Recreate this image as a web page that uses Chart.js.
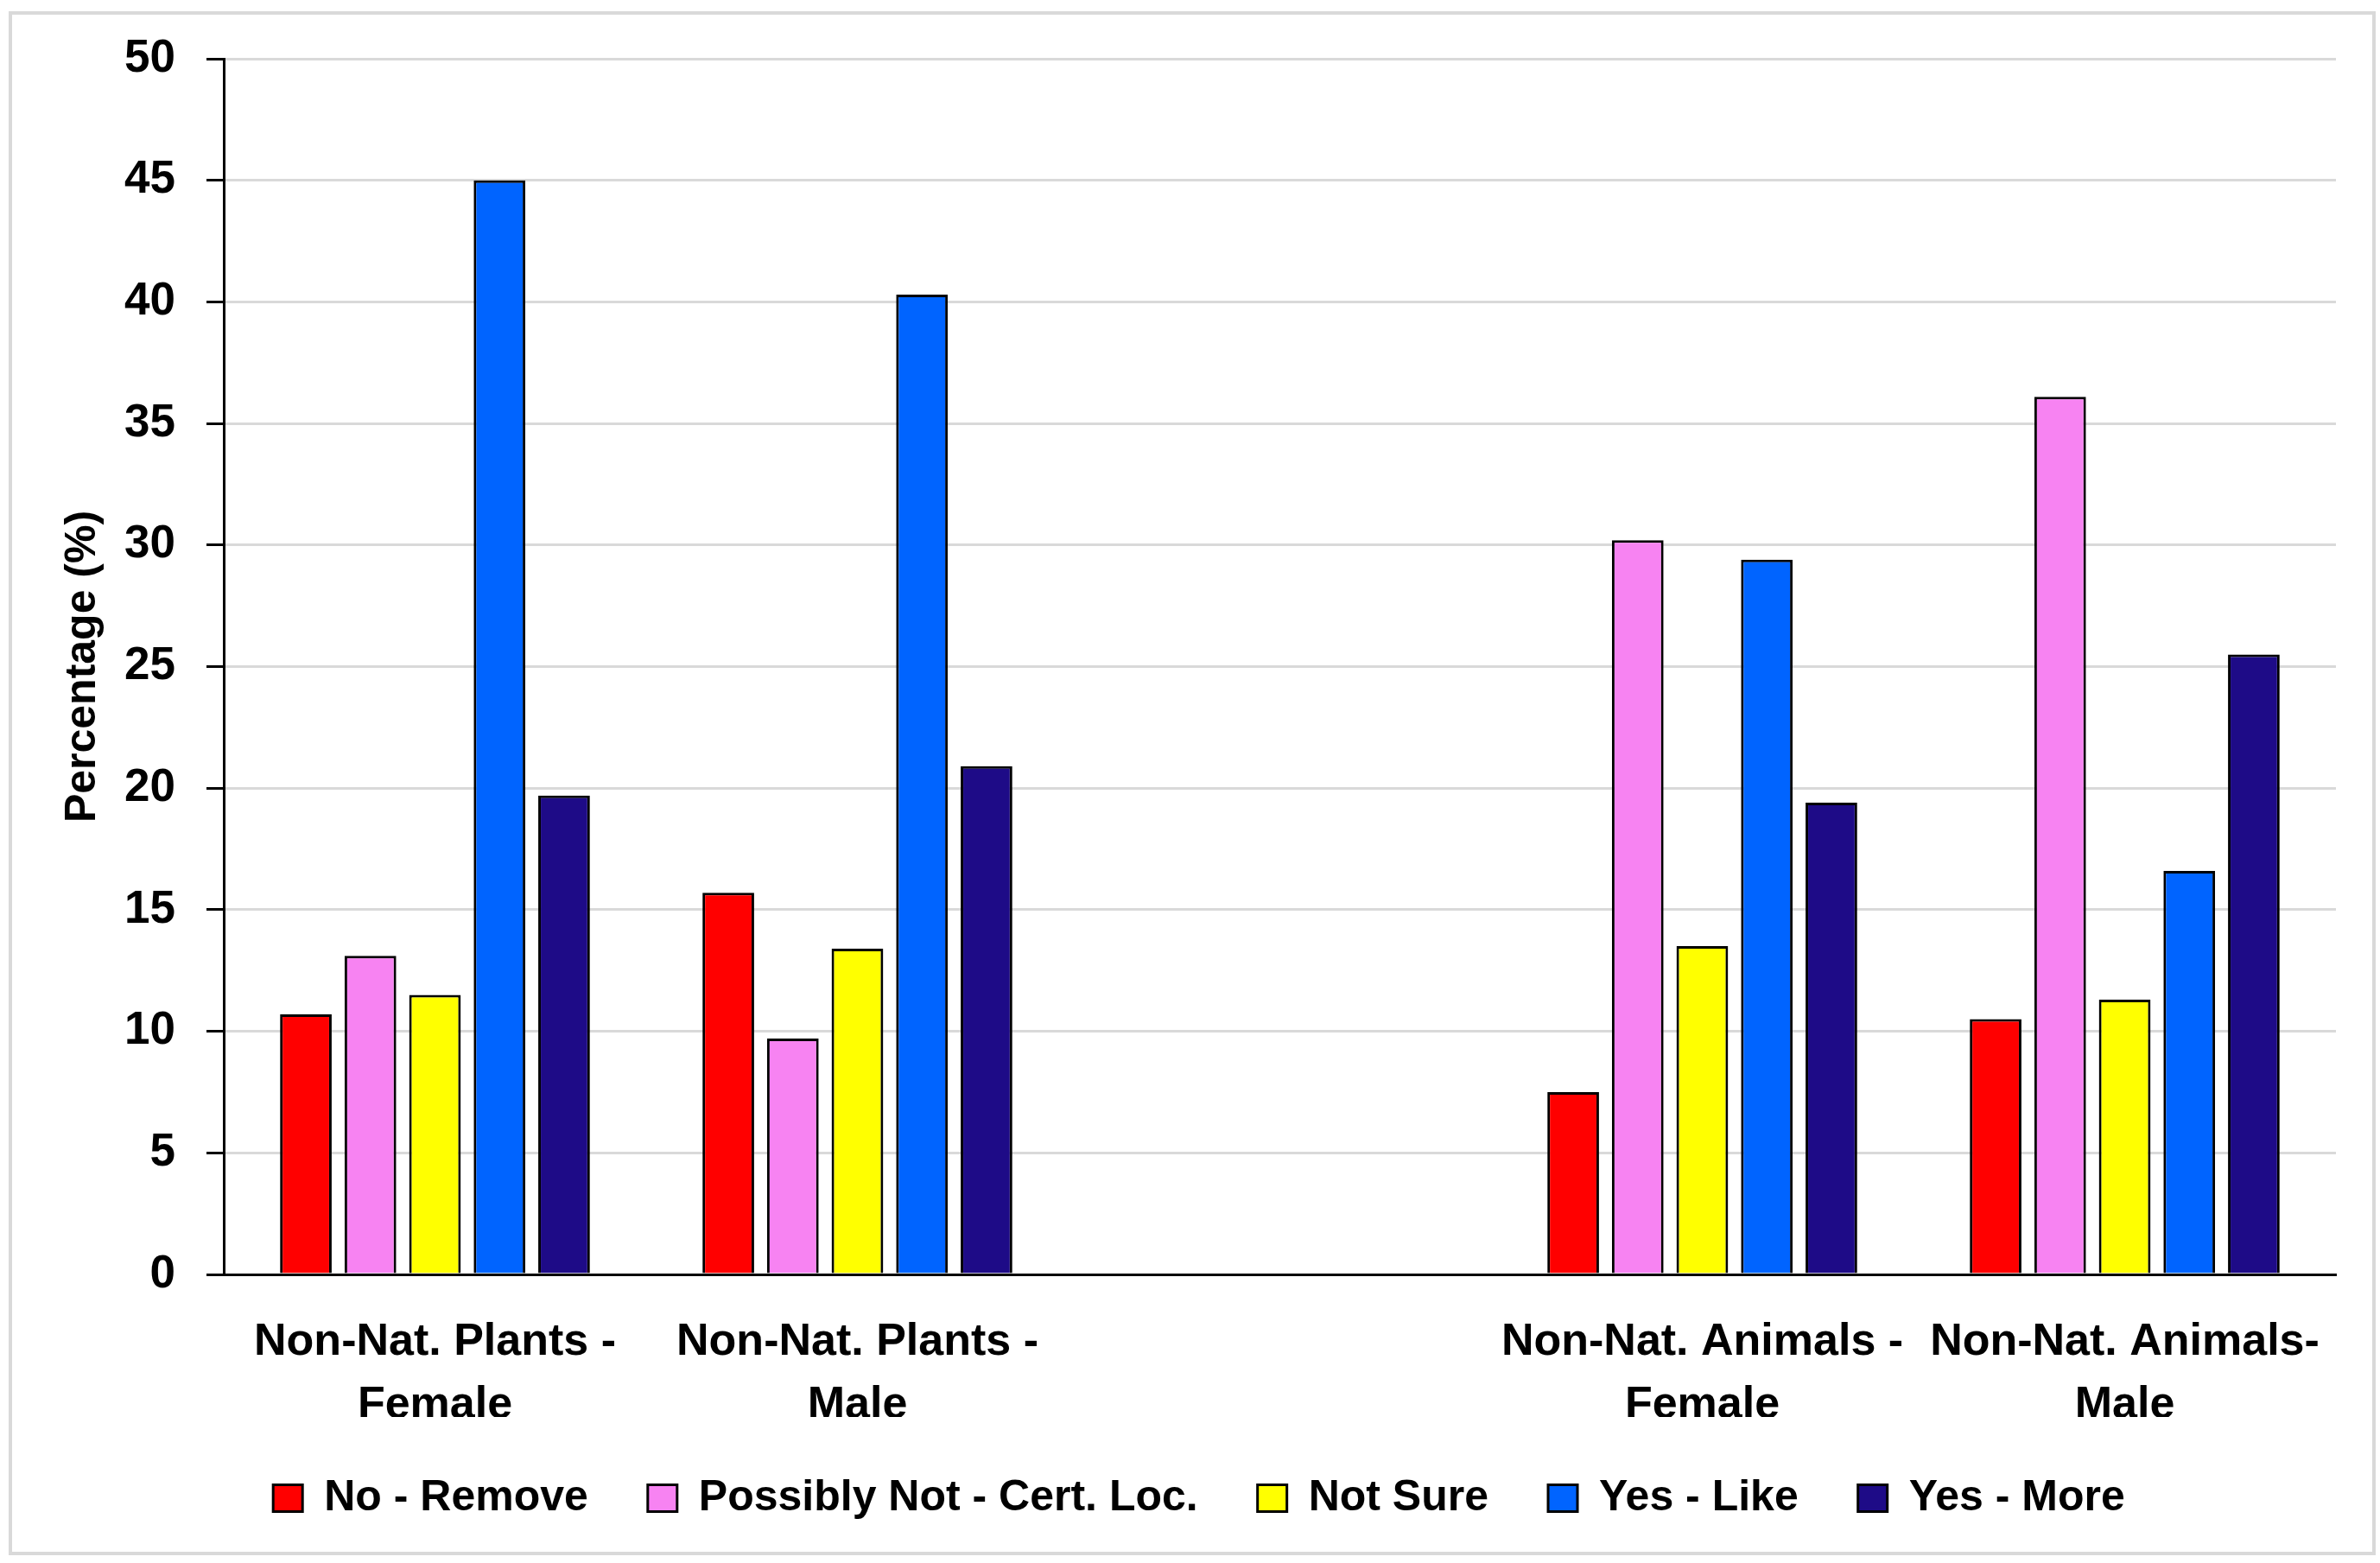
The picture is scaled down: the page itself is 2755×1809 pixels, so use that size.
<!DOCTYPE html>
<html>
<head>
<meta charset="utf-8">
<script src="https://cdn.jsdelivr.net/npm/chart.js@4.4.1/dist/chart.umd.min.js"></script>
<style>
  html, body { margin: 0; padding: 0; background: #ffffff; }
  #wrap { position: relative; width: 2755px; height: 1809px; overflow: hidden; background: #ffffff; }
  #frame { position: absolute; left: 10px; top: 13px; width: 2740px; height: 1787px; box-sizing: border-box; border: 4px solid #d9d9d9; pointer-events: none; }
  #c { position: absolute; left: 0; top: 0; }
</style>
</head>
<body>
<div id="wrap">
  <canvas id="c" width="2755" height="1809"></canvas>
  <div id="frame"></div>
</div>
<script>
// ---- Data ----
const categories = [
  ["Non-Nat. Plants -", "Female"],
  ["Non-Nat. Plants -", "Male"],
  "",
  ["Non-Nat. Animals -", "Female"],
  ["Non-Nat. Animals-", "Male"]
];
const seriesNames = ["No - Remove", "Possibly Not - Cert. Loc.", "Not Sure", "Yes - Like", "Yes - More"];
const noRemove      = [10.7, 15.7, null, 7.5, 10.5];
const possiblyNot   = [13.1, 9.7, null, 30.2, 36.1];
const notSure       = [11.5, 13.4, null, 13.5, 11.3];
const yesLike       = [45.0, 40.3, null, 29.4, 16.6];
const yesMore       = [19.7, 20.9, null, 19.4, 25.5];
const yTicks = [0, 5, 10, 15, 20, 25, 30, 35, 40, 45, 50];

const seriesValues = [noRemove, possiblyNot, notSure, yesLike, yesMore];
const seriesColors = ["#FF0000", "#F783F2", "#FFFF00", "#0064FF", "#1E0B87"];

const datasets = seriesNames.map((name, i) => ({
  label: name,
  data: seriesValues[i],
  backgroundColor: seriesColors[i],
  borderColor: "#000000",
  borderWidth: 3,
  categoryPercentage: 0.764,
  barPercentage: 0.8
}));

const FONT = "'Liberation Sans', Arial, Helvetica, sans-serif";

new Chart(document.getElementById("c"), {
  type: "bar",
  data: { labels: categories, datasets: datasets },
  options: {
    responsive: false,
    animation: false,
    devicePixelRatio: 1,
    layout: { padding: { left: 72, right: 51, top: 68, bottom: 40 } },
    plugins: {
      tooltip: { enabled: false },
      title: { display: false },
      legend: {
        display: true,
        position: "bottom",
        align: "center",
        labels: {
          color: "#000000",
          font: { family: FONT, size: 50, weight: "bold" },
          boxWidth: 34,
          boxHeight: 31,
          padding: 69
        }
      }
    },
    scales: {
      x: {
        grid: { display: false },
        border: { display: true, color: "#000000", width: 3 },
        ticks: {
          color: "#000000",
          padding: 34,
          maxRotation: 0,
          minRotation: 0,
          autoSkip: false,
          font: { family: FONT, size: 52, weight: "bold", lineHeight: 1.404 }
        },
        afterFit: (scale) => { scale.height = 165; }
      },
      y: {
        min: 0,
        max: 50,
        afterBuildTicks: (scale) => { scale.ticks = yTicks.map(v => ({ value: v })); },
        grid: {
          color: "#d9d9d9",
          lineWidth: 3,
          drawTicks: true,
          tickLength: 20,
          tickColor: "#000000",
          tickWidth: 3
        },
        border: { display: true, color: "#000000", width: 3 },
        ticks: {
          color: "#000000",
          padding: 36,
          font: { family: FONT, size: 53, weight: "bold" }
        },
        title: {
          display: true,
          text: "Percentage (%)",
          color: "#000000",
          font: { family: FONT, size: 50, weight: "bold", lineHeight: 0.96 },
          padding: { top: 0, bottom: 0 }
        },
        afterFit: (scale) => { scale.width = 187; }
      }
    }
  }
});
</script>
</body>
</html>
